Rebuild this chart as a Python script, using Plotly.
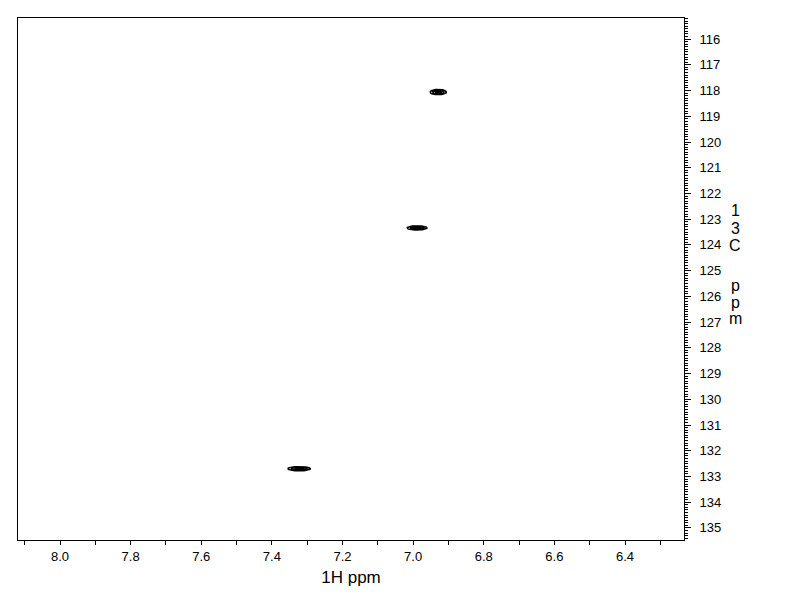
import numpy as np
import plotly.graph_objects as go

# Peak data (1H ppm, 13C ppm, half-width in 1H, half-width in 13C)
peak_h = [6.929, 6.989, 7.323]
peak_c = [118.06, 123.34, 132.70]
peak_wh = [0.023, 0.028, 0.032]
peak_wc = [0.10, 0.08, 0.08]
contour_levels = [1.0, 0.7, 0.4]

x_range = [8.119, 6.233]
y_range = [135.47, 115.18]

y_title_chars = ["1", "3", "C", "p", "p", "m"]
y_title_pix = [210, 228, 245, 285, 302, 318]   # vertical pixel positions of stacked letters

fig = go.Figure()
theta = np.linspace(0, 2 * np.pi, 60)
for h, c, wh, wc in zip(peak_h, peak_c, peak_wh, peak_wc):
    for lv in contour_levels:
        fig.add_trace(go.Scatter(
            x=h + wh * lv * np.cos(theta),
            y=c + wc * lv * np.sin(theta),
            mode="lines", line=dict(color="black", width=1.6),
            hoverinfo="skip", showlegend=False))

font = "Liberation Sans, Arial, sans-serif"
fig.update_layout(
    width=784, height=604,
    margin=dict(l=10, r=108, t=10, b=72),
    paper_bgcolor="white", plot_bgcolor="white",
    font=dict(family=font, color="black", size=13),
    showlegend=False,
)
fig.update_xaxes(
    range=x_range, showgrid=False, zeroline=False,
    showline=True, linecolor="black", linewidth=1, mirror=True,
    ticks="outside", ticklen=4, tickcolor="black", dtick=0.2, tick0=0,
    tickformat=".1f",
    minor=dict(ticks="outside", ticklen=4, dtick=0.1, tickcolor="black", showgrid=False),
    title=dict(text="1H ppm", font=dict(size=17, family=font), standoff=8),
)
fig.update_yaxes(
    range=y_range, side="right", showgrid=False, zeroline=False,
    showline=True, linecolor="black", linewidth=1, mirror=True,
    ticks="outside", ticklen=6, tickcolor="black", dtick=1, tick0=0,
    minor=dict(ticks="outside", ticklen=3, dtick=0.1, tickcolor="black", showgrid=False),
    ticklabelstandoff=6,
)
for ch, yp in zip(y_title_chars, y_title_pix):
    fig.add_annotation(
        text=ch, xref="paper", yref="paper",
        x=1.0, xanchor="center", xshift=51, y=1.0, yshift=-(yp - 18), yanchor="middle",
        showarrow=False, font=dict(size=16, family=font),
    )
fig.write_html("out.html")
